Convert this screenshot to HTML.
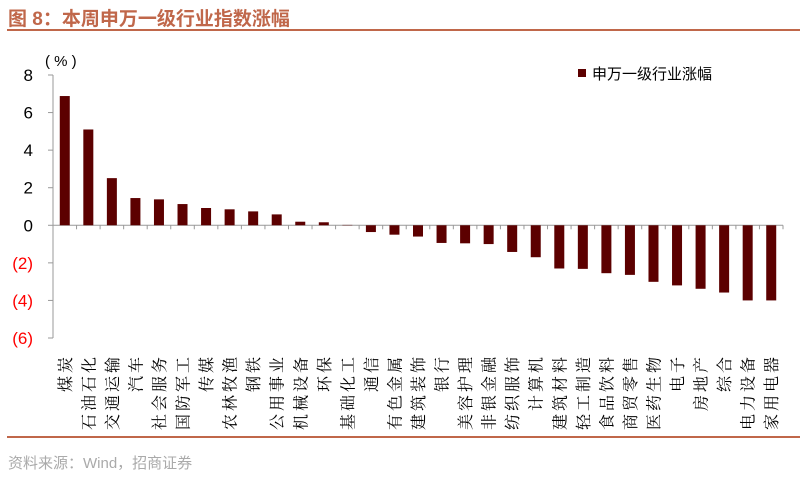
<!DOCTYPE html>
<html><head><meta charset="utf-8"><style>
body{margin:0;width:807px;height:481px;background:#fff;overflow:hidden;font-family:"Liberation Sans","Noto Sans CJK SC",sans-serif;}
</style></head><body>
<svg width="807" height="481">
<text x="8" y="25" font-size="19" font-weight="bold" fill="#c0674a" font-family="Liberation Sans, Noto Sans CJK SC, sans-serif">图 8：本周申万一级行业指数涨幅</text>
<line x1="7" y1="30" x2="800" y2="30" stroke="#c0674a" stroke-width="2"/>
<line x1="7" y1="437" x2="800" y2="437" stroke="#c0674a" stroke-width="2"/>
<text x="8" y="468" font-size="15" fill="#aaaaaa">资料来源：Wind，招商证券</text>
<text x="45" y="66" font-size="15" fill="#000">( % )</text>
<rect x="578" y="69" width="8" height="8" fill="#5c0000"/>
<text x="592" y="79" font-size="15" fill="#000">申万一级行业涨幅</text>
<g id="plot"></g>
</svg>
<script>
const categories=["煤炭","石油石化","交通运输","汽车","社会服务","国防军工","传媒","农林牧渔","钢铁","公用事业","机械设备","环保","基础化工","通信","有色金属","建筑装饰","银行","美容护理","非银金融","纺织服饰","计算机","建筑材料","轻工制造","食品饮料","商贸零售","医药生物","电子","房地产","综合","电力设备","家用电器"];
const values=[6.88,5.10,2.51,1.45,1.38,1.13,0.92,0.85,0.74,0.58,0.19,0.16,0.02,-0.36,-0.5,-0.6,-0.94,-0.96,-1.0,-1.42,-1.7,-2.3,-2.32,-2.55,-2.64,-3.01,-3.2,-3.38,-3.58,-4.0,-4.0];
const ticks=[8,6,4,2,0,-2,-4,-6];
const tickLabels=["8","6","4","2","0","(2)","(4)","(6)"];
const NS="http://www.w3.org/2000/svg";
const g=document.getElementById('plot');
const x0=53,x1=783,yTop=75,yBot=338,vMax=8,vMin=-6;
const y=v=>yTop+(vMax-v)/(vMax-vMin)*(yBot-yTop);
const step=(x1-x0)/categories.length;
const xc=i=>x0+step*(i+0.5);
function mk(t,a){const e=document.createElementNS(NS,t);for(const k in a)e.setAttribute(k,a[k]);g.appendChild(e);return e;}
let ax=mk('line',{x1:x0,y1:yTop,x2:x0,y2:yBot,stroke:'#999'});


ticks.forEach((t,i)=>{
 const l=mk('line',{x1:x0-5,y1:y(t),x2:x0,y2:y(t),stroke:'#999'});
 
 
 const tx=mk('text',{x:x0-20,y:y(t)+6,'font-size':17,'text-anchor':'end',fill:t<0?'#ff0000':'#000'});
 tx.textContent=tickLabels[i];
 
 
});
let xa=mk('line',{x1:x0,y1:y(0),x2:x1,y2:y(0),stroke:'#999'});


for(let i=1;i<=categories.length;i++){
 const t=mk('line',{x1:x0+step*i,y1:y(0),x2:x0+step*i,y2:y(0)+4,stroke:'#999'});
 
 
}
categories.forEach((c,i)=>{
 const v=values[i];
 const b=mk('rect',{x:xc(i)-5,y:Math.min(y(v),y(0)),width:10,height:Math.abs(y(v)-y(0)),fill:'#5c0000'});
 
 
 const tx=mk('text',{x:0,y:0,'font-size':16,'letter-spacing':3,'text-anchor':'end',fill:'#000',transform:`translate(${xc(i)+6},354) rotate(-90)`,'font-family':'Liberation Serif, Noto Serif CJK SC, serif'});
 tx.textContent=c;
 
 
});
</script>
</body></html>
